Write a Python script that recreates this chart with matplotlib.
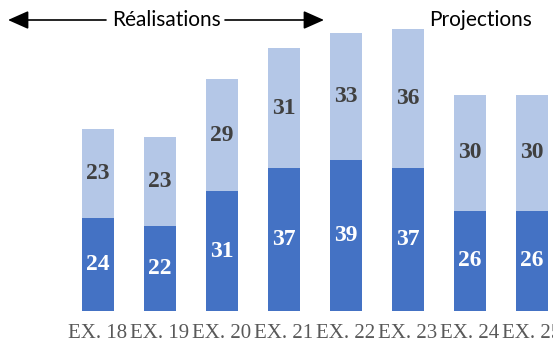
import matplotlib.pyplot as plt
from matplotlib.patches import FancyArrowPatch

# Données par exercice
exercices = ["EX. 18", "EX. 19", "EX. 20", "EX. 21", "EX. 22", "EX. 23", "EX. 24", "EX. 25"]
part_basse = [24, 22, 31, 37, 39, 37, 26, 26]
part_haute = [23, 23, 29, 31, 33, 36, 30, 30]

COULEUR_BASSE = "#4472C4"
COULEUR_HAUTE = "#B4C7E7"

fig = plt.figure(figsize=(5.53, 3.52), dpi=100)
# axe plus large que la figure : la dernière barre est coupée à droite
ax = fig.add_axes([67 / 553, 41 / 352, 496 / 553, 309 / 352])

x = range(len(exercices))
largeur = 0.52
ax.bar(x, part_basse, width=largeur, color=COULEUR_BASSE)
ax.bar(x, part_haute, width=largeur, bottom=part_basse, color=COULEUR_HAUTE)

police_val = dict(family="Liberation Serif", fontsize=17, fontweight="bold")
for i, (bas, haut) in enumerate(zip(part_basse, part_haute)):
    ax.text(i, bas / 2, str(bas), ha="center", va="center", color="white", **police_val)
    ax.text(i, bas + haut / 2, str(haut), ha="center", va="center", color="#404040", **police_val)

ax.set_xlim(-0.5, 7.5)
ax.set_ylim(0, 80)
ax.set_xticks(list(x))
ax.set_xticklabels(exercices, family="Liberation Serif", fontsize=15, color="#595959")
ax.tick_params(axis="x", length=0, pad=9)
ax.set_yticks([])
for s in ax.spines.values():
    s.set_visible(False)

# Bandeau : réalisations / projections
y_band = 1 - 20 / 352
fig.text(167 / 553, y_band, "Réalisations", ha="center", va="center",
         family="Lato", fontsize=15, color="black")
fig.text(481 / 553, y_band, "Projections", ha="center", va="center",
         family="Lato", fontsize=15, color="black")
style_fleche = dict(arrowstyle="-|>,head_length=0.9,head_width=0.4", mutation_scale=14,
                    color="black", lw=1.2, shrinkA=0, shrinkB=0, transform=fig.transFigure)
fig.add_artist(FancyArrowPatch((106 / 553, y_band), (8 / 553, y_band), **style_fleche))
fig.add_artist(FancyArrowPatch((225 / 553, y_band), (324 / 553, y_band), **style_fleche))

fig.savefig("out.png", dpi=100)
